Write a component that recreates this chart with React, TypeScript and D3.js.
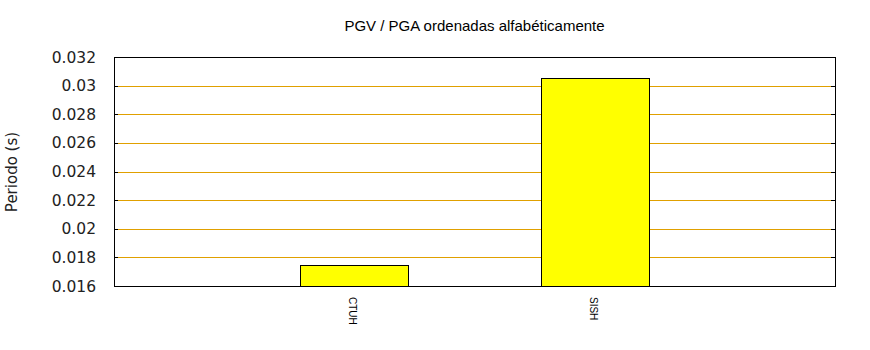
import React from "react";
import * as d3 from "d3";

const categories = ["CTUH", "SISH"];
const values = [0.01747, 0.03053];
const yTicks = [0.016, 0.018, 0.02, 0.022, 0.024, 0.026, 0.028, 0.03, 0.032];
const title = "PGV / PGA ordenadas alfabéticamente";
const yLabel = "Periodo (s)";

const W = 870, H = 350;
const M = { left: 114, right: 835, top: 57, bottom: 286 };

export default function App() {
  const y = d3.scaleLinear().domain([0.016, 0.032]).range([M.bottom, M.top]);
  const x = d3.scalePoint<string>().domain(categories).range([M.left, M.right]).padding(1);
  const bw = x.step() * 0.45;
  const fmt = (v: number) => String(+v.toFixed(3));
  return (
    <svg width={W} height={H} style={{ position: "absolute", left: 0, top: 0, background: "#fff" }}>
      <rect x={0} y={0} width={W} height={H} fill="#fff" />
      <text x={(M.left + M.right) / 2} y={31} textAnchor="middle" fontFamily="Liberation Sans, Arial" fontSize={15} fill="#000">{title}</text>
      {yTicks.slice(1, -1).map((t) => (
        <line key={"g" + t} x1={M.left} x2={M.right} y1={Math.round(y(t)) + 0.5} y2={Math.round(y(t)) + 0.5} stroke="#e0a000" strokeWidth={1} />
      ))}
      {yTicks.map((t) => (
        <g key={"t" + t}>
          <line x1={M.left} x2={M.left + 4} y1={Math.round(y(t)) + 0.5} y2={Math.round(y(t)) + 0.5} stroke="#000" />
          <line x1={M.right - 4} x2={M.right} y1={Math.round(y(t)) + 0.5} y2={Math.round(y(t)) + 0.5} stroke="#000" />
          <text x={96} y={y(t)} dy="0.36em" textAnchor="end" fontFamily="DejaVu Sans" fontSize={15.5} fill="#222">{fmt(t)}</text>
        </g>
      ))}
      {categories.map((c, i) => (
        <rect key={c} x={Math.round(x(c)! - bw / 2) + 0.5} y={Math.round(y(values[i])) + 0.5} width={Math.round(bw)} height={Math.round(M.bottom - y(values[i]))} fill="#ffff00" stroke="#000" strokeWidth={1} />
      ))}
      <rect x={M.left + 0.5} y={M.top + 0.5} width={M.right - M.left} height={M.bottom - M.top} fill="none" stroke="#000" strokeWidth={1} />
      {categories.map((c) => (
        <text key={"l" + c} transform={`translate(${x(c)! - 1.5},${297}) rotate(90)`} dy="0.35em" textAnchor="start" fontFamily="Liberation Sans, Arial" fontSize={10} fill="#000">{c}</text>
      ))}
      <text transform={`translate(17,${172}) rotate(-90)`} textAnchor="middle" fontFamily="DejaVu Sans" fontSize={15} fill="#222">{yLabel}</text>
    </svg>
  );
}
